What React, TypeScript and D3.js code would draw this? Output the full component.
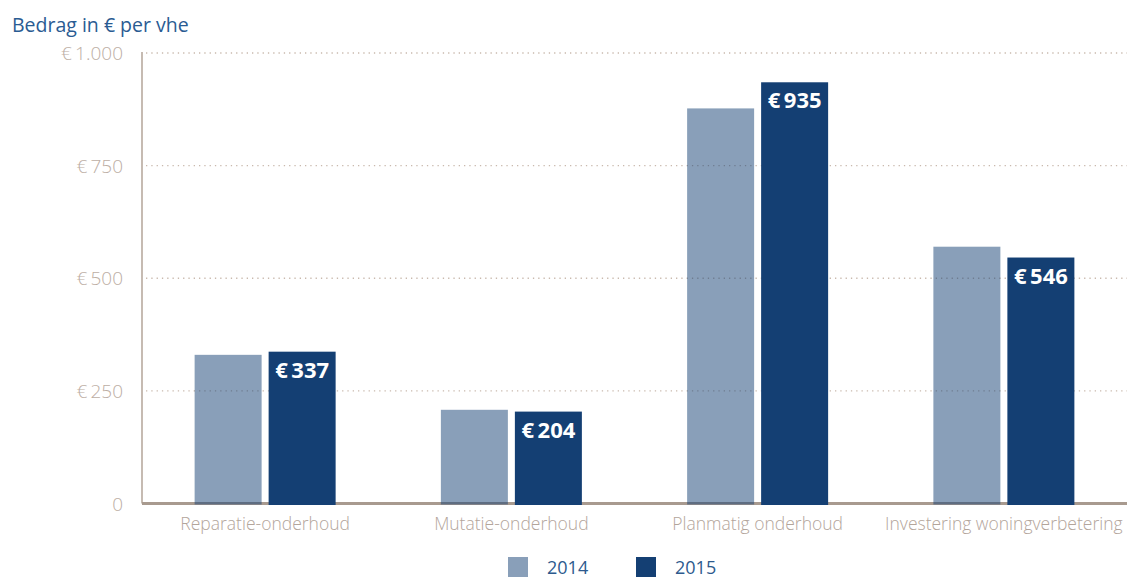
import * as d3 from 'd3'

const categories = ['Reparatie-onderhoud', 'Mutatie-onderhoud', 'Planmatig onderhoud', 'Investering woningverbetering']
const values2014 = [330, 208, 877, 570]
const values2015 = [337, 204, 935, 546]
const series = ['2014', '2015']
const yTicks = [0, 250, 500, 750, 1000]
const tickLabels = ['0', '€\u2009250', '€\u2009500', '€\u2009750', '€\u20091.000']

const W = 1131
const H = 578
const margin = { top: 53, right: 4, bottom: 74, left: 142 }
const FONT = '"Open Sans", sans-serif'
const DARK = '#143f73'
const TAN = '#b8aa9f'

export default function App() {
  const x = d3.scaleBand<string>()
    .domain(categories)
    .range([margin.left, W - margin.right])
  const barW = 67
  const gap = 7
  const groupW = barW * 2 + gap
  const y = d3.scaleLinear().domain([0, 1000]).range([H - margin.bottom - 0.5, margin.top])
  const y0 = y(0)

  return (
    <svg width={W} height={H} style={{ position: 'absolute', left: 0, top: 0, background: '#fff' }} fontFamily={FONT}>
      <text x={12} y={32} fontSize={19.5} fill="#2a5b92">Bedrag in € per vhe</text>

      {yTicks.slice(1).map((t) => (
        <line key={t} x1={margin.left + 4} x2={W - margin.right} y1={y(t)} y2={y(t)}
          stroke="#c9b9ad" strokeWidth={1.3} strokeDasharray="1.3 4" />
      ))}
      {yTicks.map((t, i) => (
        <text key={t} x={123} y={y(t) + 7} textAnchor="end" fontSize={19} fontWeight={300} fill="#bcaea4">
          {tickLabels[i]}
        </text>
      ))}

      <line x1={margin.left} x2={margin.left} y1={margin.top - 1} y2={y0} stroke={TAN} strokeWidth={1.6} />
      <line x1={margin.left} x2={W - margin.right} y1={y0} y2={y0} stroke="#a89a8f" strokeWidth={3} />

      {categories.map((c, i) => {
        const cx = (x(c) ?? 0) + x.bandwidth() / 2
        const left = cx - groupW / 2
        return (
          <g key={c}>
            <rect x={left} y={y(values2014[i])} width={barW} height={y0 - y(values2014[i]) + 1}
              fill={DARK} fillOpacity={0.5} />
            <rect x={left + barW + gap} y={y(values2015[i])} width={barW} height={y0 - y(values2015[i]) + 1.5}
              fill={DARK} />
            <text x={left + barW + gap + barW / 2} y={y(values2015[i]) + 26} textAnchor="middle"
              fontSize={22} fontWeight={700} fill="#fff">
              {'€\u2009' + values2015[i]}
            </text>
            <text x={cx} y={530} textAnchor="middle" fontSize={17.5} fontWeight={300} fill="#b3a59b">{c}</text>
          </g>
        )
      })}

      {series.map((s, i) => (
        <g key={s} transform={`translate(${508 + i * 128},557)`}>
          <rect width={20} height={20} fill={DARK} fillOpacity={i === 0 ? 0.5 : 1} />
          <text x={39} y={17} fontSize={18} fill="#2d5a8e">{s}</text>
        </g>
      ))}
    </svg>
  )
}
